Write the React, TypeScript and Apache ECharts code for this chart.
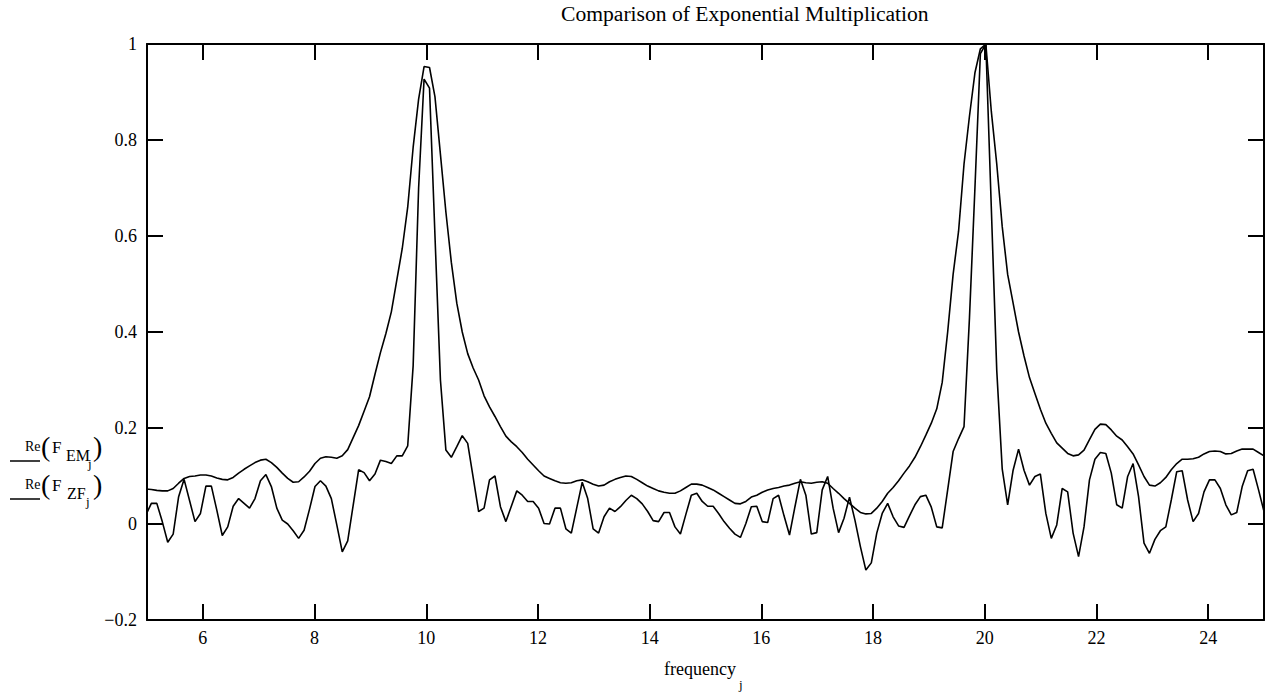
import React, { useEffect, useRef } from "react";
import * as echarts from "echarts";

// Frequency grid: sample index k, frequency = k * 25/256, first visible sample k = 51
const FIRST_INDEX = 51;
const FREQ_STEP = 25 / 256;

const xTickLabels = ["6", "8", "10", "12", "14", "16", "18", "20", "22", "24"];
const yTickLabels = ["\u22120.2", "0", "0.2", "0.4", "0.6", "0.8", "1"];

// Re(F_EM) – exponential multiplication (smooth curve)
const emValues = [
  0.073, 0.072, 0.070, 0.069, 0.069, 0.074, 0.085, 0.095, 0.099, 0.100,
  0.102, 0.102, 0.100, 0.096, 0.093, 0.092, 0.097, 0.106, 0.114, 0.121,
  0.128, 0.133, 0.135, 0.128, 0.118, 0.106, 0.095, 0.087, 0.088, 0.098,
  0.110, 0.126, 0.137, 0.140, 0.139, 0.137, 0.142, 0.155, 0.180, 0.205,
  0.235, 0.265, 0.312, 0.357, 0.397, 0.442, 0.508, 0.574, 0.660, 0.785,
  0.885, 0.953, 0.951, 0.890, 0.770, 0.650, 0.545, 0.460, 0.400, 0.355,
  0.325, 0.300, 0.267, 0.244, 0.224, 0.203, 0.183, 0.171, 0.161, 0.149,
  0.135, 0.123, 0.111, 0.100, 0.095, 0.090, 0.086, 0.085, 0.086, 0.090,
  0.092, 0.088, 0.083, 0.079, 0.081, 0.088, 0.093, 0.097, 0.100, 0.099,
  0.093, 0.086, 0.079, 0.074, 0.069, 0.066, 0.064, 0.064, 0.069, 0.076,
  0.083, 0.083, 0.081, 0.076, 0.071, 0.064, 0.057, 0.050, 0.043, 0.042,
  0.047, 0.056, 0.060, 0.066, 0.071, 0.074, 0.076, 0.079, 0.081, 0.085,
  0.088, 0.086, 0.085, 0.087, 0.088, 0.085, 0.074, 0.064, 0.053, 0.043,
  0.033, 0.024, 0.021, 0.022, 0.033, 0.047, 0.064, 0.076, 0.090, 0.106,
  0.121, 0.139, 0.161, 0.185, 0.210, 0.240, 0.295, 0.400, 0.520, 0.610,
  0.750, 0.850, 0.940, 0.990, 1.000, 0.860, 0.750, 0.620, 0.520, 0.460,
  0.400, 0.350, 0.305, 0.272, 0.239, 0.210, 0.189, 0.169, 0.158, 0.147,
  0.142, 0.144, 0.154, 0.176, 0.197, 0.208, 0.207, 0.196, 0.183, 0.175,
  0.161, 0.146, 0.123, 0.099, 0.081, 0.079, 0.086, 0.097, 0.113, 0.126,
  0.135, 0.135, 0.136, 0.139, 0.146, 0.151, 0.152, 0.151, 0.146, 0.147,
  0.152, 0.156, 0.156, 0.156, 0.149, 0.142,
];

// Re(F_ZF) – zero filling (noisy curve)
const zfValues = [
  0.019, 0.043, 0.043, 0.005, -0.038, -0.021, 0.057, 0.093, 0.049, 0.005,
  0.022, 0.079, 0.079, 0.029, -0.024, -0.006, 0.037, 0.053, 0.043, 0.033,
  0.053, 0.090, 0.103, 0.078, 0.033, 0.008, 0.000, -0.014, -0.030, -0.013,
  0.031, 0.078, 0.090, 0.079, 0.053, -0.002, -0.058, -0.035, 0.039, 0.113,
  0.107, 0.090, 0.104, 0.133, 0.130, 0.126, 0.142, 0.142, 0.163, 0.330,
  0.700, 0.927, 0.908, 0.600, 0.300, 0.154, 0.139, 0.161, 0.184, 0.168,
  0.097, 0.026, 0.033, 0.092, 0.100, 0.036, 0.005, 0.037, 0.069, 0.060,
  0.047, 0.047, 0.033, 0.001, 0.000, 0.033, 0.033, -0.010, -0.019, 0.034,
  0.087, 0.053, -0.010, -0.019, 0.015, 0.033, 0.026, 0.036, 0.049, 0.060,
  0.053, 0.042, 0.026, 0.007, 0.005, 0.024, 0.024, -0.006, -0.021, 0.020,
  0.060, 0.064, 0.047, 0.037, 0.037, 0.022, 0.005, -0.009, -0.021, -0.028,
  0.001, 0.036, 0.037, 0.005, 0.003, 0.053, 0.060, 0.017, -0.023, 0.036,
  0.093, 0.060, -0.021, -0.018, 0.071, 0.099, 0.033, -0.018, 0.012, 0.056,
  0.008, -0.047, -0.096, -0.081, -0.019, 0.022, 0.043, 0.015, -0.004, -0.007,
  0.017, 0.040, 0.057, 0.060, 0.035, -0.006, -0.008, 0.071, 0.151, 0.178,
  0.203, 0.430, 0.700, 0.980, 1.000, 0.660, 0.320, 0.115, 0.040, 0.112,
  0.156, 0.112, 0.081, 0.099, 0.104, 0.022, -0.030, -0.002, 0.074, 0.067,
  -0.019, -0.068, -0.006, 0.092, 0.135, 0.149, 0.147, 0.106, 0.040, 0.033,
  0.099, 0.126, 0.057, -0.040, -0.061, -0.032, -0.014, -0.006, 0.050, 0.109,
  0.111, 0.050, 0.005, 0.022, 0.067, 0.092, 0.092, 0.074, 0.040, 0.019,
  0.024, 0.078, 0.111, 0.114, 0.071, 0.026,
];

const SERIF_FAMILY = "Liberation Serif";

export default function App() {
  const ref = useRef<HTMLDivElement>(null);

  useEffect(() => {
    if (!ref.current) return;
    const chart = echarts.init(ref.current, undefined, { renderer: "svg" });

    const frequency = emValues.map((_, i) => (FIRST_INDEX + i) * FREQ_STEP);
    const emData = emValues.map((v, i) => [frequency[i], v]);
    const zfData = zfValues.map((v, i) => [frequency[i], v]);

    const yLabel = (v: number) => {
      const idx = Math.round((v + 0.2) / 0.2);
      return yTickLabels[idx] ?? "";
    };
    const xLabel = (v: number) => {
      const idx = Math.round((v - 6) / 2);
      return xTickLabels[idx] ?? "";
    };

    const axisLine = { show: true, onZero: false, lineStyle: { color: "#000", width: 2 } };
    const axisTick = { show: true, inside: true, length: 16, lineStyle: { color: "#000", width: 2 } };

    const txt = (text: string, x: number, y: number, size: number, align = "left") => ({
      type: "text",
      x,
      y,
      style: {
        text,
        fontFamily: SERIF_FAMILY,
        fontSize: size,
        fill: "#000",
        align,
        verticalAlign: "middle",
        textAlign: align,
        textVerticalAlign: "middle",
      },
    });

    const legendLabel = (dy: number, sub: string, subX: number, jX: number) => [
      txt("Re", 25, 446 + dy, 14),
      txt("(", 41, 446 + dy, 28),
      txt("F", 52, 447 + dy, 17),
      txt(sub, subX, 455 + dy, 16),
      txt("j", jX, 463 + dy, 13),
      txt(")", 93, 446 + dy, 28),
      {
        type: "line",
        shape: { x1: 10, y1: 461 + dy, x2: 40, y2: 461 + dy },
        style: { stroke: "#000", lineWidth: 1.5 },
      },
    ];

    chart.setOption({
      animation: false,
      backgroundColor: "#fff",
      textStyle: { fontFamily: SERIF_FAMILY },
      title: {
        text: "Comparison of Exponential Multiplication",
        left: 561,
        top: 3,
        padding: 0,
        textStyle: { fontFamily: SERIF_FAMILY, fontSize: 21.6, fontWeight: "normal", color: "#000" },
      },
      grid: { left: 147, top: 44, width: 1117, height: 576, containLabel: false },
      xAxis: [
        {
          type: "value",
          min: 5,
          max: 25,
          splitNumber: 10,
          position: "bottom",
          axisLine,
          axisTick,
          splitLine: { show: false },
          axisLabel: {
            showMinLabel: false,
            showMaxLabel: false,
            formatter: xLabel,
            color: "#000",
            fontFamily: SERIF_FAMILY,
            fontSize: 18,
            margin: 9,
          },
        },
        {
          type: "value",
          min: 5,
          max: 25,
          splitNumber: 10,
          position: "top",
          axisLine,
          axisTick,
          splitLine: { show: false },
          axisLabel: { show: false },
        },
      ],
      yAxis: [
        {
          type: "value",
          min: -0.2,
          max: 1,
          interval: 0.2,
          position: "left",
          axisLine,
          axisTick,
          splitLine: { show: false },
          axisLabel: { formatter: yLabel, color: "#000", fontFamily: SERIF_FAMILY, fontSize: 18, margin: 10 },
        },
        {
          type: "value",
          min: -0.2,
          max: 1,
          interval: 0.2,
          position: "right",
          axisLine,
          axisTick,
          splitLine: { show: false },
          axisLabel: { show: false },
        },
      ],
      series: [
        {
          name: "Re(F EM)",
          type: "line",
          xAxisIndex: 0,
          yAxisIndex: 0,
          data: emData,
          showSymbol: false,
          symbol: "none",
          clip: true,
          lineStyle: { color: "#000", width: 1.6 },
        },
        {
          name: "Re(F ZF)",
          type: "line",
          xAxisIndex: 0,
          yAxisIndex: 0,
          data: zfData,
          showSymbol: false,
          symbol: "none",
          clip: true,
          lineStyle: { color: "#000", width: 1.6 },
        },
      ],
      graphic: [
        ...legendLabel(0, "EM", 66, 88),
        ...legendLabel(38, "ZF", 67, 86),
        txt("frequency", 664, 669, 18),
        txt("j", 739, 684, 13),
      ],
    });

    return () => chart.dispose();
  }, []);

  return (
    <div
      ref={ref}
      style={{ position: "fixed", left: 0, top: 0, width: 1265, height: 694, background: "#fff" }}
    />
  );
}
